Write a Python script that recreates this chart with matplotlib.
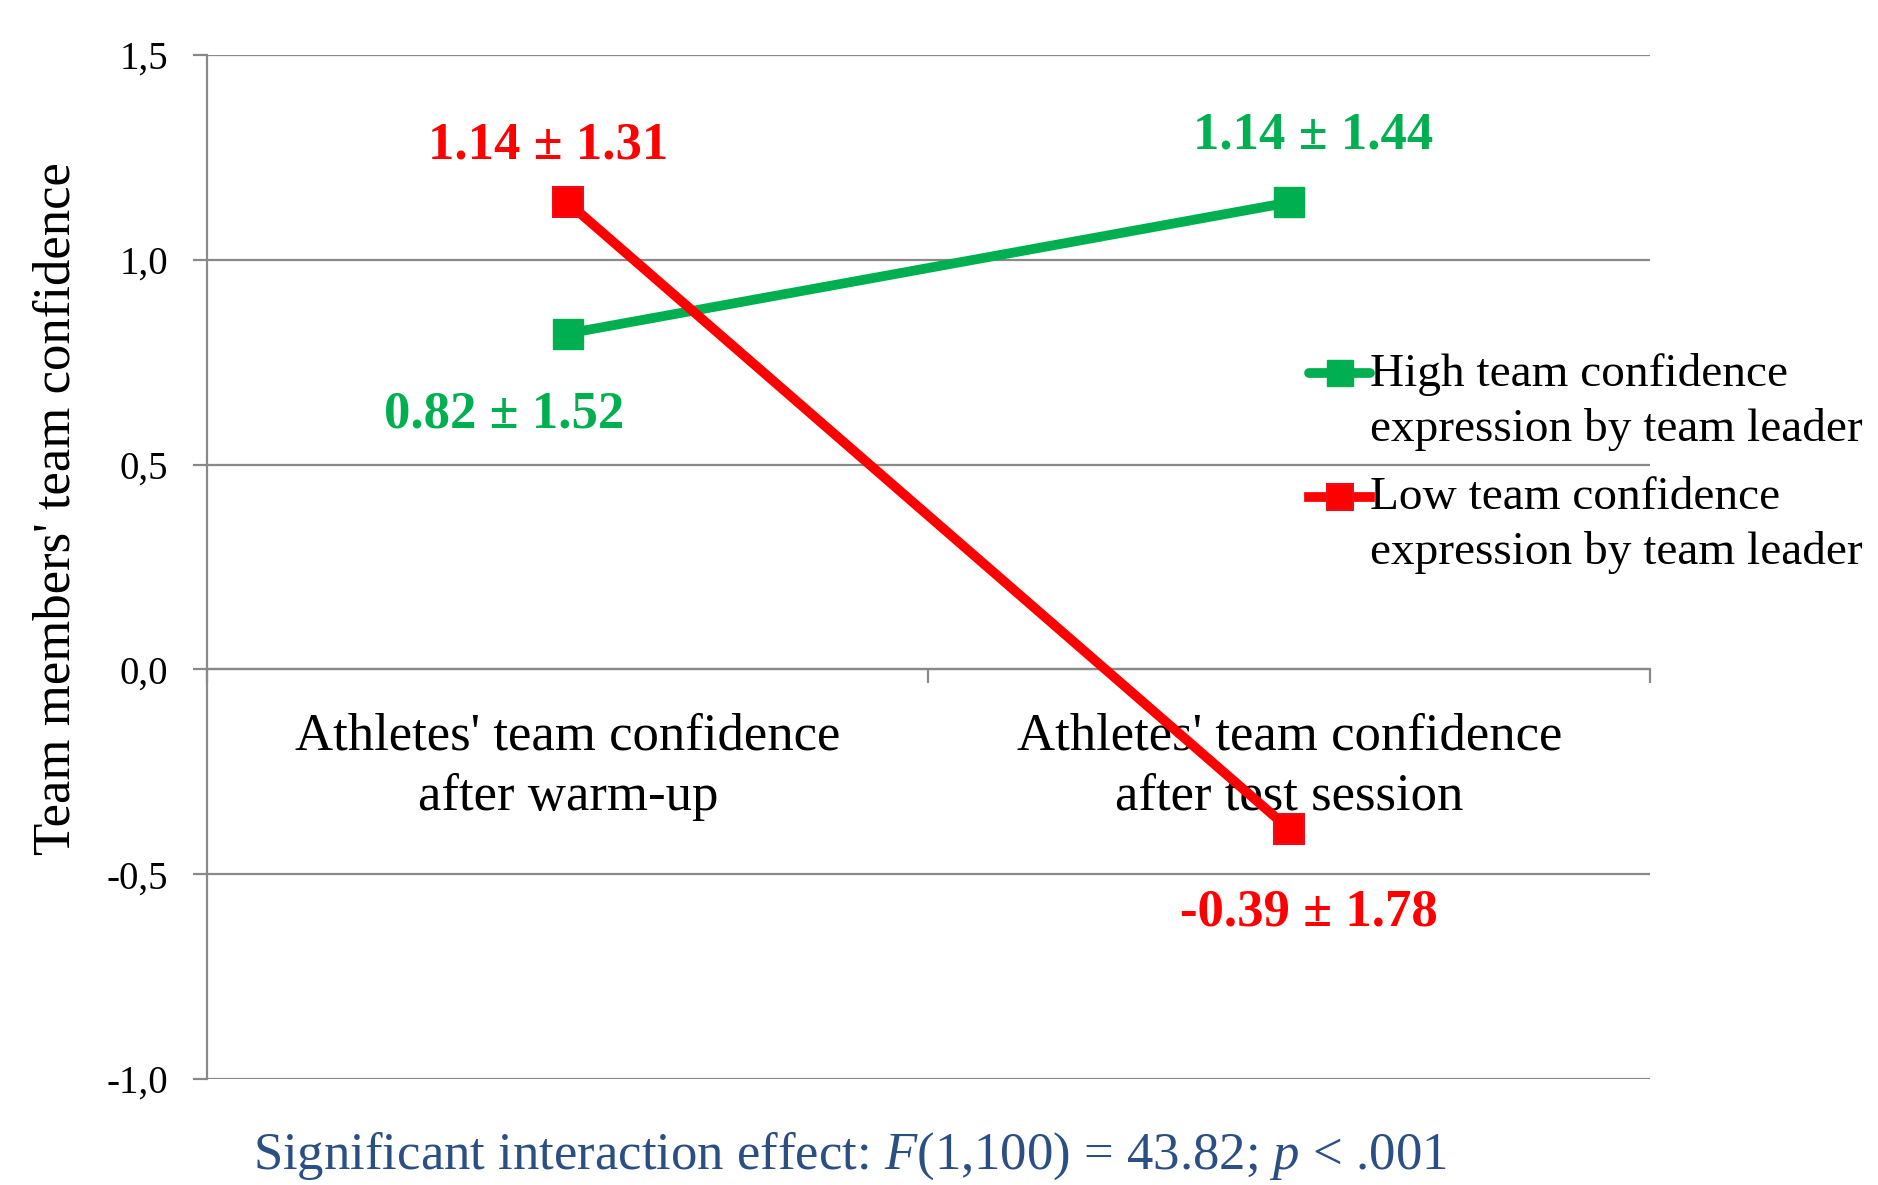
import numpy as np
import matplotlib
matplotlib.use("Agg")
import matplotlib.pyplot as plt
from matplotlib.legend_handler import HandlerLine2D
from matplotlib.ticker import FuncFormatter

plt.rcParams['font.family'] = ['Liberation Serif', 'DejaVu Serif']
plt.rcParams['mathtext.fontset'] = 'custom'
plt.rcParams['mathtext.rm'] = 'Liberation Serif'
plt.rcParams['mathtext.it'] = 'Liberation Serif:italic'

# data
categories = ["Athletes' team confidence\nafter warm-up",
              "Athletes' team confidence\nafter test session"]
high_mean = [0.82, 1.14]
high_sd = [1.52, 1.44]
low_mean = [1.14, -0.39]
low_sd = [1.31, 1.78]
series_names = ["High team confidence\nexpression by team leader",
                "Low team confidence\nexpression by team leader"]
y_ticks = [-1.0, -0.5, 0.0, 0.5, 1.0, 1.5]

green = '#00B050'
red = '#FF0000'
grid_col = '#898989'

fig = plt.figure(figsize=(18.78, 11.85), dpi=100)
ax = fig.add_axes([0.1102, 0.0895, 0.7684, 0.8641])

x = np.arange(len(categories))
l1, = ax.plot(x, high_mean, color=green, lw=7, marker='s', ms=22,
              mec=green, solid_capstyle='round', label=series_names[0], zorder=3)
l2, = ax.plot(x, low_mean, color=red, lw=7, marker='s', ms=22,
              mec='#E8101C', mew=1.5, label=series_names[1], zorder=4)

# value labels
def lab(m, s):
    return f"{m:.2f} \u00b1 {s:.2f}"

offsets_high = [(-46, -58), (17, 48)]
offsets_low = [(-14, 41), (14, -60)]
for i in range(len(categories)):
    ax.annotate(lab(high_mean[i], high_sd[i]), (x[i], high_mean[i]),
                xytext=offsets_high[i], textcoords='offset points',
                ha='center', va='center', fontsize=38, fontweight='bold', color=green)
    ax.annotate(lab(low_mean[i], low_sd[i]), (x[i], low_mean[i]),
                xytext=offsets_low[i], textcoords='offset points',
                ha='center', va='center', fontsize=38, fontweight='bold', color=red)

ax.set_xlim(-0.5, 1.5)
ax.set_ylim(-1.0, 1.5)
ax.set_yticks(y_ticks)
ax.yaxis.set_major_formatter(FuncFormatter(lambda v, p: f"{v:.1f}".replace('.', ',')))
ax.grid(axis='y', color=grid_col, lw=1.6)
ax.set_axisbelow(True)

for s in ['top', 'right']:
    ax.spines[s].set_visible(False)
ax.spines['left'].set_color(grid_col)
ax.spines['left'].set_linewidth(1.6)
ax.spines['bottom'].set_position(('data', 0))
ax.spines['bottom'].set_color(grid_col)
ax.spines['bottom'].set_linewidth(1.6)

ax.set_xticks(x)
ax.set_xticklabels(categories, fontsize=38, linespacing=1.33)
ax.set_xticks([-0.5, 0.5, 1.5], minor=True)
ax.tick_params(axis='x', which='major', length=0, pad=31)
ax.tick_params(axis='x', which='minor', length=10, width=1.6, color=grid_col)
ax.tick_params(axis='y', length=10, width=1.6, color=grid_col, labelsize=28, pad=18)

ax.text(-0.104, 0.557, "Team members' team confidence", transform=ax.transAxes,
        rotation=90, ha='center', va='center', fontsize=38)


class HandlerTop(HandlerLine2D):
    def create_artists(self, legend, orig_handle, xdescent, ydescent,
                       width, height, fontsize, trans):
        artists = super().create_artists(legend, orig_handle, xdescent, ydescent,
                                         width, height, fontsize, trans)
        for a in artists:
            a.set_ydata(np.asarray(a.get_ydata()) + 0.6 * fontsize)
        return artists


leg = fig.legend(handles=[l1, l2], loc='upper left', bbox_to_anchor=(0.697, 0.702),
                 frameon=False, fontsize=34, handlelength=1.3, handletextpad=0.0,
                 borderpad=0, borderaxespad=0, labelspacing=0.55, markerscale=0.85,
                 handler_map={l1: HandlerTop(), l2: HandlerTop()})
for t in leg.get_texts():
    t.set_linespacing(1.35)

fig.text(0.4526, 0.0245,
         r"Significant interaction effect: $\mathit{F(1{,}100)}$ = 43.82; $\mathit{p}$ < .001",
         ha='center', va='center', fontsize=38, color='#2B4F82')

fig.savefig("out.png", dpi=100)
